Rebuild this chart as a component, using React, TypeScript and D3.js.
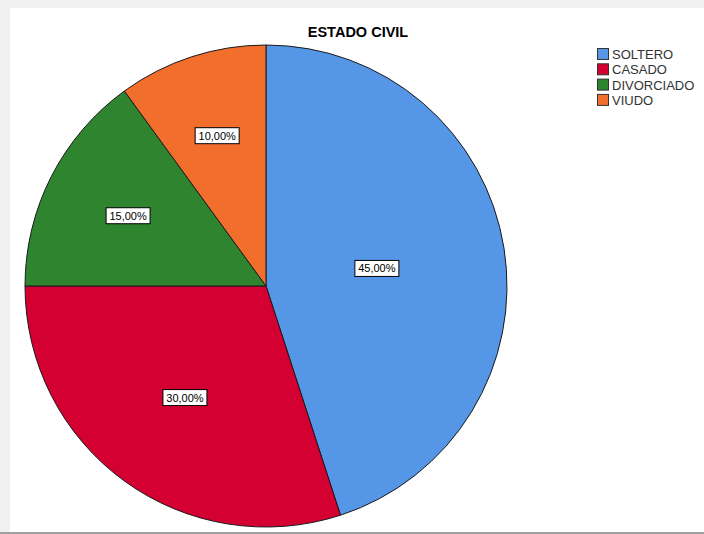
import React from "react";
import * as d3 from "d3";

const categories = ["SOLTERO", "CASADO", "DIVORCIADO", "VIUDO"];
const values = [45, 30, 15, 10];
const labels = ["45,00%", "30,00%", "15,00%", "10,00%"];
const colors = ["#5596e6", "#d50032", "#2e842f", "#f26e2c"];
const title = "ESTADO CIVIL";

const W = 704;
const H = 534;
const cx = 266;
const cy = 286;
const R = 241;

export default function App() {
  const pie = d3.pie<number>().sort(null).value((d) => d)(values);
  const arc = d3.arc<d3.PieArcDatum<number>>().innerRadius(0).outerRadius(R);
  const font = "'Liberation Sans', Arial, sans-serif";
  return (
    <svg
      width={W}
      height={H}
      style={{ position: "absolute", left: 0, top: 0 }}
      fontFamily={font}
    >
      <rect x={0} y={0} width={W} height={H} fill="#f0f0f0" />
      <rect x={10} y={8} width={W - 10} height={524} fill="#ffffff" />
      <rect x={0} y={532} width={W} height={2} fill="#a0a0a0" />
      <text x={358} y={37} textAnchor="middle" fontSize={14.5} fontWeight="bold" fill="#000">
        {title}
      </text>
      <g transform={`translate(${cx},${cy})`}>
        {pie.map((p, i) => (
          <path key={i} d={arc(p) || ""} fill={colors[i]} stroke="#1a1a1a" strokeWidth={1} />
        ))}
        {pie.map((p, i) => {
          const theta = p.endAngle - p.startAngle;
          const mid = (p.startAngle + p.endAngle) / 2;
          const dist = (4 * R * Math.sin(theta / 2)) / (3 * theta);
          const x = Math.sin(mid) * dist;
          const y = -Math.cos(mid) * dist;
          return (
            <g key={"l" + i} transform={`translate(${x},${y})`}>
              <rect x={-22} y={-8} width={44} height={16} fill="#fff" stroke="#000" strokeWidth={1} />
              <text x={0} y={4} textAnchor="middle" fontSize={11} fill="#000">
                {labels[i]}
              </text>
            </g>
          );
        })}
      </g>
      <g transform="translate(597,48)">
        {categories.map((c, i) => (
          <g key={c} transform={`translate(0,${i * 15.3})`}>
            <rect x={0.5} y={0.5} width={11} height={11} fill={colors[i]} stroke="#333" strokeWidth={1} />
            <text x={15} y={11} fontSize={13} fill="#333">
              {c}
            </text>
          </g>
        ))}
      </g>
    </svg>
  );
}
